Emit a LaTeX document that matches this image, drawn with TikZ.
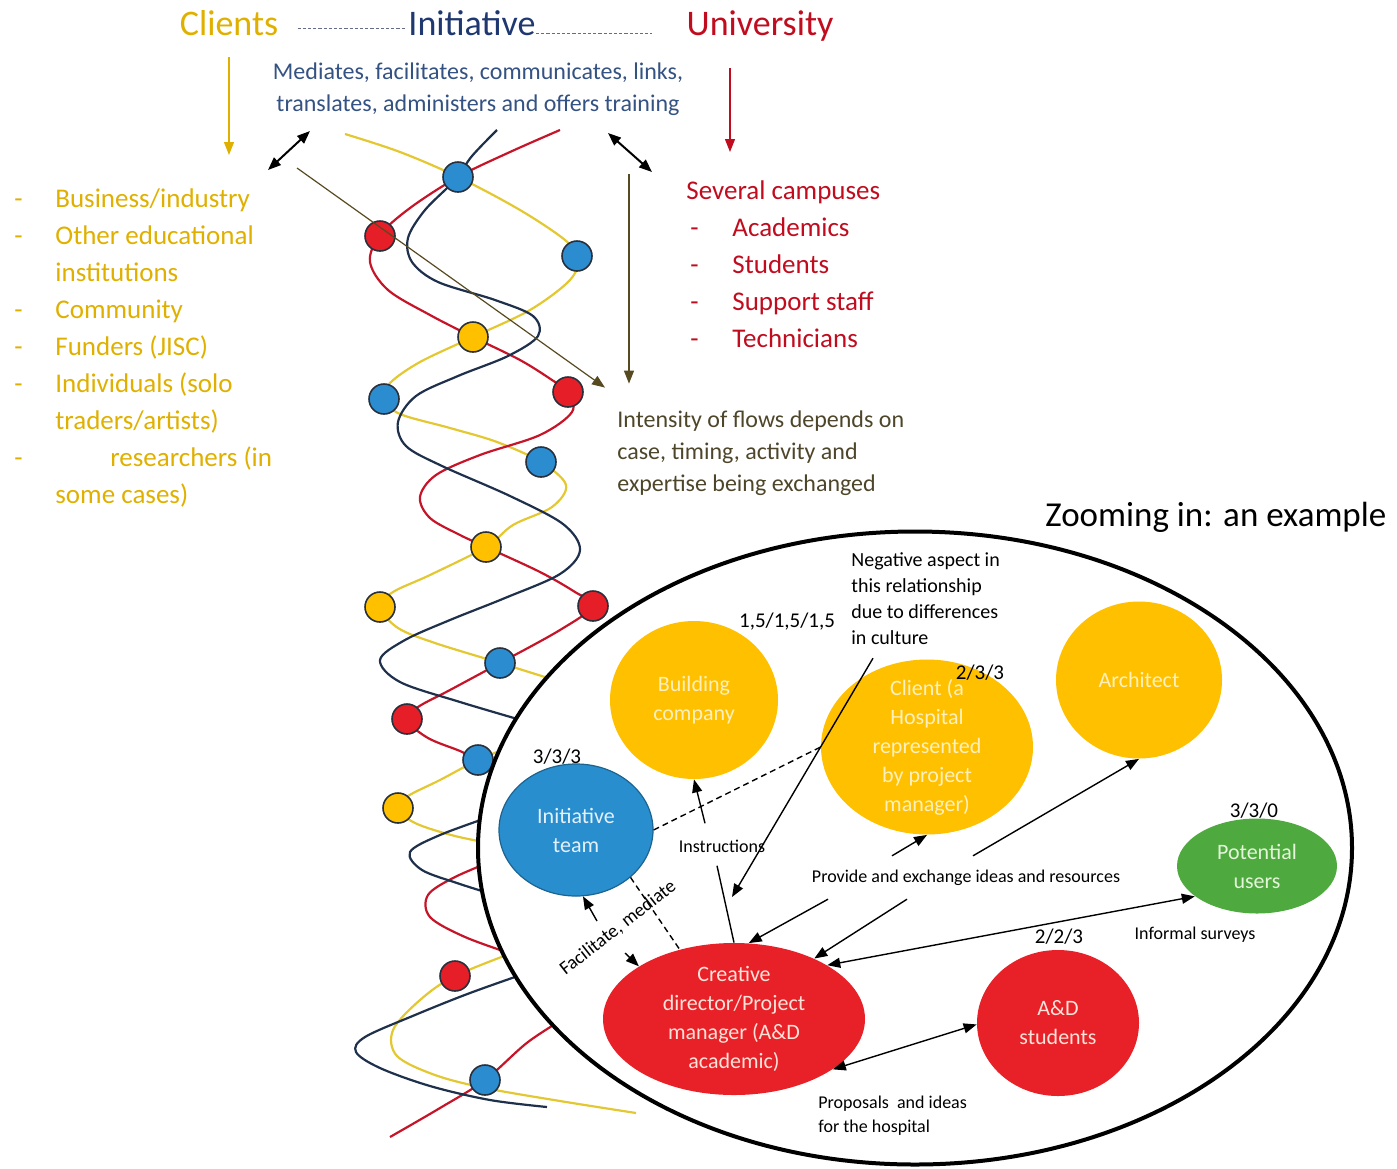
\documentclass[tikz,border=0pt]{standalone}
\usepackage{fontspec}
\setmainfont{Carlito}
\usepackage{tikz}
\usetikzlibrary{arrows.meta,calc,shapes.geometric}

\definecolor{clientgold}{RGB}{224,176,0}
\definecolor{initnavy}{RGB}{31,56,112}
\definecolor{unired}{RGB}{192,12,30}
\definecolor{medblue}{RGB}{52,82,130}
\definecolor{flowbrown}{RGB}{88,74,32}
\definecolor{flowtext}{RGB}{78,70,42}
\definecolor{dotline}{RGB}{100,108,135}
\definecolor{strandyellow}{RGB}{228,200,50}
\definecolor{strandred}{RGB}{198,20,40}
\definecolor{strandnavy}{RGB}{30,48,75}
\definecolor{dotblue}{RGB}{44,140,208}
\definecolor{dotred}{RGB}{230,30,40}
\definecolor{dotgold}{RGB}{255,192,0}
\definecolor{dotrim}{RGB}{40,48,60}
\definecolor{bubblegold}{RGB}{255,192,0}
\definecolor{bubbleblue}{RGB}{40,142,206}
\definecolor{bubblered}{RGB}{232,32,40}
\definecolor{bubblegreen}{RGB}{78,170,62}
\definecolor{goldtext}{RGB}{255,240,190}
\definecolor{bluetext}{RGB}{228,240,250}
\definecolor{redtext}{RGB}{255,226,216}
\definecolor{greentext}{RGB}{228,245,218}

\begin{document}
\begin{tikzpicture}[x=0.5pt, y=-0.5pt, >={Triangle[length=6.5pt,width=5pt]},
		head/.style={anchor=base, inner sep=0pt, font=\fontsize{18}{20}\selectfont},
		strand/.style={line width=1.1pt},
		bead/.style={draw=dotrim, line width=0.8pt},
		bubble/.style={ellipse, inner sep=0pt},
		bubbletext/.style={align=center, inner sep=0pt, font=\fontsize{11}{14.5}\selectfont},
		note/.style={inner sep=0pt, font=\fontsize{9}{12}\selectfont},
		score/.style={inner sep=0pt, font=\fontsize{10.5}{12}\selectfont},
		link/.style={line width=0.7pt}]

	\useasboundingbox (0,0) rectangle (1397,1168);

	\node (clients) [head, text=clientgold] at (229,35) {Clients};
	\node (initiative) [head, text=initnavy] at (472,35) {Initiative};
	\node (university) [head, text=unired] at (760,35) {University};
	\draw [dotline, line width=0.5pt, dash pattern=on 1.6pt off 1pt] ([shift={(9.5pt,3.5pt)}]clients.base east) -- ([shift={(-1.5pt,3.5pt)}]initiative.base west);
	\draw [dotline, line width=0.5pt, dash pattern=on 1.6pt off 1pt] ([yshift=1pt]initiative.base east) -- ([shift={(-17pt,1pt)}]university.base west);

	\coordinate (clientsdrop) at (229,155);
	\coordinate (unidrop) at (730,152);
	\draw [->, clientgold, line width=0.6pt] ([yshift=-11pt]clients.base) -- (clientsdrop);
	\draw [->, unired, line width=0.6pt] ([shift={(-15pt,-16.5pt)}]university.base) -- (unidrop);

	\node (mediates) [anchor=base, inner sep=0pt, text=medblue, font=\fontsize{12}{16}\selectfont] at (478,79) {\begin{tabular}[t]{@{}c@{}}Mediates, facilitates, communicates, links,\\ translates, administers and offers training\end{tabular}};

	\node (clientlist) [anchor=base west, inner sep=0pt, text=clientgold, font=\fontsize{13.5}{18.5}\selectfont] at (14,207) {\begin{tabular}[t]{@{}p{20.5pt}@{}l@{}}
		-&Business/industry\\
		-&Other educational\\
		&institutions\\
		-&Community\\
		-&Funders (JISC)\\
		-&Individuals (solo\\
		&traders/artists)\\
		-&\hspace{27.5pt}researchers (in\\
		&some cases)
	\end{tabular}};

	\node (campuses) [anchor=base west, inner sep=0pt, text=unired, font=\fontsize{13.5}{18.5}\selectfont] at (686,199) {\begin{tabular}[t]{@{}p{23pt}@{}l@{}}
		\multicolumn{2}{@{}l@{}}{Several campuses}\\
		\hspace{2pt}-&Academics\\
		\hspace{2pt}-&Students\\
		\hspace{2pt}-&Support staff\\
		\hspace{2pt}-&Technicians
	\end{tabular}};

	\node (intensity) [anchor=base west, inner sep=0pt, text=flowtext, font=\fontsize{12}{16}\selectfont] at (617,427) {\begin{tabular}[t]{@{}l@{}}Intensity of flows depends on\\case, timing, activity and\\expertise being exchanged\end{tabular}};

	\node (zoomtitle) [anchor=base west, inner sep=0pt, font=\fontsize{17.5}{20}\selectfont] at (1045,526) {Zooming in: an example};

	\draw [strand, strandyellow] plot [smooth, tension=0.55] coordinates {(345,134) (400,152) (458,177) (520,210) (565,240) (578,258) (570,280) (530,310) (473,337) (420,362) (390,383) (384,399) (400,414) (450,428) (497,442) (541,462) (566,485) (552,507) (513,525) (486,547) (430,575) (393,592) (380,607) (398,628) (435,643) (500,663) (580,688)};
	\draw [strand, strandyellow] plot [smooth, tension=0.55] coordinates {(515,745) (478,760) (440,780) (408,796) (398,808) (415,823) (455,836) (500,845)};
	\draw [strand, strandyellow] plot [smooth, tension=0.55] coordinates {(520,950) (455,976) (420,1000) (393,1030) (397,1056) (435,1075) (485,1088) (560,1101) (636,1113)};

	\draw [strand, strandred] plot [smooth, tension=0.55] coordinates {(560,130) (510,152) (458,177) (410,208) (380,235) (370,262) (388,290) (430,315) (473,337) (520,360) (552,380) (568,392) (572,412) (540,435) (480,455) (436,475) (420,497) (430,518) (460,535) (486,547) (540,572) (575,592) (593,606) (560,630) (500,663) (450,690) (418,707) (407,720) (428,738) (460,751) (478,760) (515,772)};
	\draw [strand, strandred] plot [smooth, tension=0.55] coordinates {(500,858) (455,877) (428,895) (430,917) (465,937) (515,955)};
	\draw [strand, strandred] plot [smooth, tension=0.55] coordinates {(570,1015) (528,1042) (485,1080) (440,1108) (390,1137)};

	\draw [strand, strandnavy] plot [smooth, tension=0.55] coordinates {(497,130) (472,156) (455,180) (425,210) (408,238) (412,262) (438,282) (495,300) (533,316) (538,336) (508,356) (458,376) (416,396) (398,422) (406,446) (442,466) (510,496) (563,524) (580,550) (560,574) (505,598) (450,620) (405,640) (380,660) (400,682) (460,702) (545,727)};
	\draw [strand, strandnavy] plot [smooth, tension=0.55] coordinates {(495,815) (440,835) (410,852) (422,870) (460,884) (495,895)};
	\draw [strand, strandnavy] plot [smooth, tension=0.55] coordinates {(535,970) (470,993) (415,1015) (365,1037) (356,1052) (380,1068) (430,1086) (490,1100) (547,1107)};

	\foreach \p in {(458,177),(577,256),(384,399),(541,462),(500,663),(478,760),(485,1080)}
		\draw [bead, fill=dotblue] \p circle [radius=7.5pt];
	\foreach \p in {(380,236),(568,392),(593,606),(407,719),(455,976)}
		\draw [bead, fill=dotred] \p circle [radius=7.5pt];
	\foreach \p in {(473,337),(486,547),(380,607),(398,808)}
		\draw [bead, fill=dotgold] \p circle [radius=7.5pt];

	\coordinate (medleft) at (268,170);
	\coordinate (medright) at (652,172);
	\draw [<->, line width=1pt] (medleft) -- ([shift={(-84pt,-5pt)}]mediates.south);
	\draw [<->, line width=1pt] (medright) -- ([shift={(65pt,-6pt)}]mediates.south);
	\coordinate (flowtail) at (297,168);
	\coordinate (flowtop) at (629,174);
	\draw [->, flowbrown, line width=0.6pt] (flowtail) -- ([shift={(-6pt,8.3pt)}]intensity.north west);
	\draw [->, flowbrown, line width=0.6pt] (flowtop) -- ([shift={(6pt,10.3pt)}]intensity.north west);

	\node (zoomin) [draw, ellipse, line width=2pt, fill=white, inner sep=0pt, minimum width=437pt, minimum height=316.5pt] at (915,848) {};

	\node (building) [bubble, fill=bubblegold, minimum width=84pt, minimum height=79pt] at (694,700) {};
	\node (buildingtext) [bubbletext, text=goldtext] at (building) {Building\\company};
	\node (client) [bubble, fill=bubblegold, minimum width=106pt, minimum height=87.5pt] at (927,747) {};
	\node (clienttext) [bubbletext, text=goldtext] at (client) {Client (a\\Hospital\\represented\\by project\\manager)};
	\node (architect) [bubble, fill=bubblegold, minimum width=83pt, minimum height=78.5pt] at (1139,680) {};
	\node (architecttext) [bubbletext, text=goldtext] at (architect) {Architect};
	\node (team) [bubble, fill=bubbleblue, draw=bubbleblue!70!black, line width=0.6pt, minimum width=77pt, minimum height=66pt] at (576,830) {};
	\node (teamtext) [bubbletext, text=bluetext] at (team) {Initiative\\team};
	\node (users) [bubble, fill=bubblegreen, minimum width=80pt, minimum height=47.5pt] at (1257,866) {};
	\node (userstext) [bubbletext, text=greentext] at (users) {Potential\\users};
	\node (creative) [bubble, fill=bubblered, minimum width=131pt, minimum height=76pt] at (734,1019) {};
	\node (creativetext) [bubbletext, text=redtext] at (creative) {Creative\\director/Project\\manager (A\&D\\academic)};
	\node (students) [bubble, fill=bubblered, minimum width=81pt, minimum height=73pt] at (1058,1023) {};
	\node (studentstext) [bubbletext, text=redtext] at (students) {A\&D\\students};

	\node (buildingscore) [score] at (787,622) {1,5/1,5/1,5};
	\node (clientscore) [score] at (980,673) {2/3/3};
	\node (teamscore) [score] at (557,757) {3/3/3};
	\node (usersscore) [score] at (1254,811) {3/3/0};
	\node (studentsscore) [score] at (1059,937) {2/2/3};

	\node (negative) [anchor=base west, inner sep=0pt, font=\fontsize{10}{13}\selectfont] at (851,566) {\begin{tabular}[t]{@{}l@{}}Negative aspect in\\this relationship\\due to differences\\in culture\end{tabular}};
	\node (instr) [note] at (722,846) {Instructions};
	\node (provide) [note] at (966,878) {Provide and exchange ideas and resources};
	\node (surveys) [note] at (1195,935) {Informal surveys};
	\node (facilitate) [note, font=\fontsize{9.5}{12}\selectfont, rotate=38] at (618,928) {Facilitate, mediate};
	\node (proposals) [anchor=base west, inner sep=0pt, font=\fontsize{9}{12}\selectfont] at (818,1108) {\begin{tabular}[t]{@{}l@{}}Proposals\ \ and ideas\\for the hospital\end{tabular}};

	\draw [link, dashed, dash pattern=on 3pt off 2pt] (team.east) -- (client.west);
	\draw [link, dashed, dash pattern=on 3pt off 2pt] (team.-41) -- (creative.128);

	\coordinate (facup) at (597,921);
	\coordinate (facdown) at (625,953);
	\draw [->, link] (facup) -- (team.-84);
	\draw [->, link] (facdown) -- (creative.151);

	\draw [link] (creative.north) -- ([shift={(-2.5pt,-6.5pt)}]instr.south);
	\draw [->, link] ([shift={(-8.5pt,8pt)}]instr.north) -- (building.south);

	\coordinate (negtip) at (732,897);
	\draw [->, link] ([shift={(11pt,-3pt)}]negative.south west) -- (negtip);

	\draw [->, link] ([shift={(-37pt,7pt)}]provide.north) -- (client.south);
	\draw [->, link] ([shift={(3.5pt,7pt)}]provide.north) -- (architect.south);
	\draw [->, link] ([shift={(-69pt,-6.5pt)}]provide.south) -- (creative.79);
	\draw [->, link] ([shift={(-29.5pt,-6.5pt)}]provide.south) -- (creative.37);

	\draw [<->, link] (creative.30) -- (users.206);
	\draw [<->, link] (creative.-27) -- (students.181);
\end{tikzpicture}
\end{document}
